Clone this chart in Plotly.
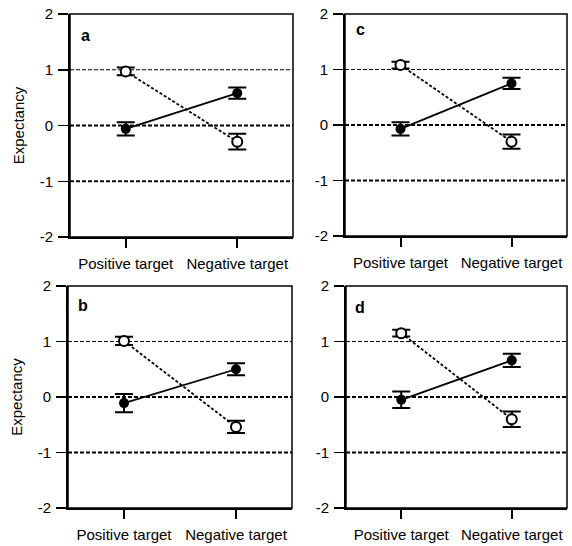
import plotly.graph_objects as go

categories = ["Positive target", "Negative target"]
panel_labels = ["a", "c", "b", "d"]

filled_a = [-0.06, 0.58]
filled_a_err = [0.12, 0.10]
open_a = [0.97, -0.29]
open_a_err = [0.07, 0.14]

filled_c = [-0.07, 0.75]
filled_c_err = [0.12, 0.10]
open_c = [1.08, -0.30]
open_c_err = [0.06, 0.13]

filled_b = [-0.11, 0.50]
filled_b_err = [0.165, 0.11]
open_b = [1.01, -0.54]
open_b_err = [0.075, 0.11]

filled_d = [-0.05, 0.66]
filled_d_err = [0.15, 0.12]
open_d = [1.15, -0.40]
open_d_err = [0.06, 0.14]

y_ticks = [-2, -1, 0, 1, 2]
y_tick_text = ["-2", "-1", "0", "1", "2"]
reference_levels = [1, 0, -1]

filled_series = [filled_a, filled_c, filled_b, filled_d]
filled_errs = [filled_a_err, filled_c_err, filled_b_err, filled_d_err]
open_series = [open_a, open_c, open_b, open_d]
open_errs = [open_a_err, open_c_err, open_b_err, open_d_err]

W, H = 572, 546
# panel pixel boxes: left, right, top, bottom
boxes = [(70, 293, 14, 237), (345, 567, 14, 236), (68, 292, 286, 508), (346, 567, 286, 508)]
label_pos = [(0.07, 0.905), (0.068, 0.93), (0.067, 0.914), (0.063, 0.905)]
level_widths = [1, 2, 2]

FONT = "Liberation Sans, Arial, Helvetica, sans-serif"
fig = go.Figure()
layout = dict(width=W, height=H, margin=dict(l=0, r=0, t=0, b=0, autoexpand=False),
              template="none",
              paper_bgcolor="white", plot_bgcolor="white", showlegend=False,
              font=dict(family=FONT, size=15, color="black"))
annotations = []
shapes = []
for i in range(4):
    xa = "xaxis" if i == 0 else f"xaxis{i+1}"
    ya = "yaxis" if i == 0 else f"yaxis{i+1}"
    xr = "x" if i == 0 else f"x{i+1}"
    yr = "y" if i == 0 else f"y{i+1}"
    l, r, t, b = boxes[i]
    layout[xa] = dict(domain=[l / W, r / W], anchor=yr, type="category",
                      categoryorder="array", categoryarray=categories, automargin=False,
                      range=[-0.5, 1.5], showline=True, linecolor="black", linewidth=2,
                      ticks="outside", ticklen=9, tickwidth=2, tickcolor="black",
                      showgrid=False, zeroline=False, ticklabelstandoff=3,
                      tickfont=dict(size=15, family=FONT, color="black"))
    layout[ya] = dict(domain=[1 - b / H, 1 - t / H], anchor=xr, range=[-2, 2], automargin=False,
                      tickvals=y_ticks, ticktext=y_tick_text, showline=True, linecolor="black", linewidth=2,
                      ticks="outside", ticklen=10, tickwidth=1.5, tickcolor="black",
                      showgrid=False, zeroline=False, ticklabelstandoff=2,
                      tickfont=dict(size=15, family=FONT, color="black"))
    if i in (0, 2):
        layout[ya]["title"] = dict(text="Expectancy", font=dict(size=15, family=FONT, color="black"), standoff=11)
    for lev, lw in zip(reference_levels, level_widths):
        shapes.append(dict(type="line", xref=f"{xr} domain", yref=yr, x0=0, x1=1, y0=lev, y1=lev,
                           layer="below", line=dict(color="black", width=lw, dash="4px,2px")))
    shapes.append(dict(type="rect", xref=f"{xr} domain", yref=f"{yr} domain",
                       x0=0, x1=1, y0=0, y1=1, line=dict(color="black", width=1.5)))
    annotations.append(dict(text=f"<b>{panel_labels[i]}</b>", xref=f"{xr} domain", yref=f"{yr} domain",
                            x=label_pos[i][0], y=label_pos[i][1], showarrow=False,
                            xanchor="center", yanchor="middle",
                            font=dict(size=16, family=FONT, color="black")))
    fig.add_trace(go.Scatter(x=categories, y=open_series[i], xaxis=xr, yaxis=yr, mode="lines+markers",
                             line=dict(color="black", width=1.8, dash="3px,2px"),
                             marker=dict(symbol="circle", size=10, color="white",
                                         line=dict(color="black", width=2)),
                             error_y=dict(type="data", array=open_errs[i], color="black",
                                          thickness=2, width=9)))
    fig.add_trace(go.Scatter(x=categories, y=filled_series[i], xaxis=xr, yaxis=yr, mode="lines+markers",
                             line=dict(color="black", width=1.8),
                             marker=dict(symbol="circle", size=10, color="black"),
                             error_y=dict(type="data", array=filled_errs[i], color="black",
                                          thickness=2, width=9)))
layout["annotations"] = annotations
layout["shapes"] = shapes
fig.update_layout(**layout)
fig.write_html("out.html", config={"displayModeBar": False, "staticPlot": True},
               post_script="document.body.style.margin='0';document.body.style.overflow='hidden';")
